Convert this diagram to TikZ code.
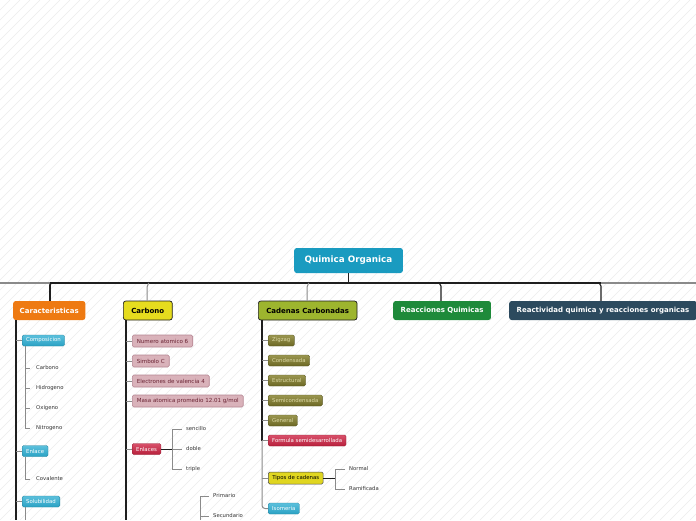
\documentclass[tikz,border=0pt]{standalone}
\usepackage{fontspec}
\setmainfont{DejaVu Sans}
\usetikzlibrary{calc}
\definecolor{rootc}{HTML}{1A9BC0}
\definecolor{orangec}{HTML}{EE7A12}
\definecolor{yellowc}{HTML}{E6DC1E}
\definecolor{olivec}{HTML}{9DB52E}
\definecolor{greenc}{HTML}{1E8A3A}
\definecolor{slatec}{HTML}{2C4A5E}
\definecolor{tealc}{HTML}{2AA2C4}
\definecolor{tealtop}{HTML}{5CC0DC}
\definecolor{pinkc}{HTML}{D9B2BA}
\definecolor{pinkb}{HTML}{B58592}
\definecolor{pinkt}{HTML}{6A2434}
\definecolor{crimc}{HTML}{B8203C}
\definecolor{crimtop}{HTML}{D8506A}
\definecolor{darkol}{HTML}{6C6824}
\definecolor{darkoltop}{HTML}{9A9650}
\definecolor{oltext}{HTML}{DCD8A4}
\definecolor{tipoc}{HTML}{E0D620}
\definecolor{linec}{HTML}{1E1E1E}
\definecolor{tickc}{HTML}{8A8A8A}
\definecolor{leaft}{HTML}{333333}
\definecolor{hatch}{HTML}{ECECEC}
\tikzset{
  rootbox/.style={draw=none, fill=rootc, text=white, rounded corners=2.5pt, anchor=west,
    font=\fontsize{8.8}{10}\selectfont\bfseries, inner xsep=10.5pt, inner ysep=0pt, minimum height=25pt},
  mainbox/.style={rounded corners=2.5pt, anchor=west, font=\fontsize{7}{8}\selectfont\bfseries,
    inner xsep=7.5pt, inner ysep=0pt, minimum height=19pt},
  subbox/.style={rounded corners=1.5pt, anchor=west, font=\fontsize{5.4}{6}\selectfont,
    inner xsep=4pt, inner ysep=0pt, minimum height=11pt},
  tealbox/.style={subbox, top color=tealtop, bottom color=tealc, draw=tealc!80!black, line width=0.3pt, text=white},
  pinkbox/.style={subbox, fill=pinkc, draw=pinkb, line width=0.6pt, text=pinkt, minimum height=12pt, inner xsep=4.5pt, font=\fontsize{5.55}{6}\selectfont},
  crimbox/.style={subbox, top color=crimtop, bottom color=crimc, draw=crimc!80!black, line width=0.3pt, text=white},
  olbox/.style={subbox, top color=darkoltop, bottom color=darkol, draw=darkol!80!black, line width=0.3pt, text=oltext},
  tipobox/.style={subbox, fill=tipoc, draw=linec!80, line width=0.5pt, text=black, minimum height=12pt, inner xsep=4pt},
  leaf/.style={anchor=west, font=\fontsize{5.3}{6}\selectfont, text=leaft, inner sep=0pt},
  spine/.style={draw=linec, line width=1.2pt},
  bus/.style={draw=linec, line width=1.6pt},
  graybus/.style={draw=tickc, line width=1.6pt},
  tick/.style={draw=tickc, line width=0.6pt},
  graytrunk/.style={draw=tickc, line width=1pt},
}
\begin{document}
\begin{tikzpicture}[x=1pt,y=-1pt]
\useasboundingbox (0,0) rectangle (696,520);
\fill[white] (0,0) rectangle (696,520);
\begin{scope}
\clip (0,0) rectangle (696,520);
\foreach \i in {-530,-520,...,700} \draw[hatch, line width=0.5pt] (\i,520) -- (\i+520,0);
\end{scope}

% root
\node[rootbox] (root) at (294,260.5) {Quimica Organica};

% main boxes
\node[mainbox, fill=orangec, text=white, draw=none, inner xsep=6.5pt] (car) at (13,310.5) {Caracteristicas};
\node[mainbox, fill=yellowc, text=black, draw=linec, line width=0.7pt, inner xsep=8pt] (carb) at (123,310.5) {Carbono};
\node[mainbox, fill=olivec, text=black, draw=linec, line width=0.7pt, inner xsep=8pt] (cad) at (258,310.5) {Cadenas Carbonadas};
\node[mainbox, fill=greenc, text=white, draw=none] (reac) at (393,310.5) {Reacciones Quimicas};
\node[mainbox, fill=slatec, text=white, draw=none, inner xsep=7.5pt] (reacti) at (509,310.5) {Reactividad quimica y reacciones organicas};

% bus
\coordinate (busL) at (0,283);
\coordinate (busR) at (696,283);
\coordinate (busA) at (50,283);
\coordinate (busB) at (601,283);
\draw[graybus] (busL) -- (busR);
\draw[bus] (busA) -- (busB);
\draw[bus] (root.south) ++(0,0) -- (root.south |- busA);
\draw[bus, rounded corners=2pt] (52,283) -- (50,283) -- (car.north -| 50,0);
\draw[graytrunk, rounded corners=2pt] (149,283) -- (147,285) -- (carb.north -| 147,0);
\draw[graytrunk, rounded corners=2pt] (309,283) -- (307,285) -- (cad.north -| 307,0);
\draw[bus, line width=1.1pt, rounded corners=2pt] (439,283) -- (441,284) -- (reac.north -| 441,0);
\draw[bus, line width=1.1pt, rounded corners=2pt] (599,283) -- (601,284) -- (reacti.north -| 601,0);

% ---------- Caracteristicas ----------
\node[tealbox] (comp) at (22,340.5) {Composicion};
\node[leaf] (c1) at (36,368) {Carbono};
\node[leaf] (c2) at (36,388) {Hidrogeno};
\node[leaf] (c3) at (36,408) {Oxigeno};
\node[leaf] (c4) at (36,428) {Nitrogeno};
\node[tealbox] (enl) at (22,451) {Enlace};
\node[leaf] (cov) at (36,479) {Covalente};
\node[tealbox] (sol) at (22,501.5) {Solubilidad};
\coordinate (carbot) at (16,520);
\draw[spine] (car.south west) ++(3,0) -- (carbot);
\foreach \n in {comp,enl,sol} \draw[tick] (\n.west -| carbot) -- (\n.west);
\coordinate (compx) at (25,0);
\draw[tick, line width=0.9pt] (comp.south west -| compx) -- (c4.west -| compx) -- ++(5,0);
\foreach \n in {c1,c2,c3} \draw[tick] (\n.west -| compx) -- ++(5,0);
\draw[tick, line width=0.9pt] (enl.south west -| compx) -- (cov.west -| compx) -- ++(5,0);
\draw[tick, line width=0.9pt] (sol.south west -| compx) -- (25,520);

% ---------- Carbono ----------
\node[pinkbox] (num) at (132,341) {Numero atomico 6};
\node[pinkbox] (sim) at (132,361) {Simbolo C};
\node[pinkbox] (ele) at (132,381) {Electrones de valencia 4};
\node[pinkbox] (mas) at (132,401) {Masa atomica promedio 12.01 g/mol};
\node[crimbox] (enls) at (132,449) {Enlaces};
\node[leaf] (sen) at (186,429) {sencillo};
\node[leaf] (dob) at (186,449) {doble};
\node[leaf] (tri) at (186,469) {triple};
\node[leaf] (pri) at (213,496) {Primario};
\node[leaf] (sec) at (213,516) {Secundario};
\coordinate (carbbot) at (126,520);
\draw[spine] (carb.south west) ++(3,0) -- (carbbot);
\foreach \n in {num,sim,ele,mas,enls} \draw[tick] (\n.west -| carbbot) -- (\n.west);
\draw[spine, line width=0.9pt] (enls.east) -- (172,449);
\draw[tick, line width=0.9pt] (sen.west) ++(-4,0) -- (172,429) -- (172,469) -- ($(tri.west)+(-4,0)$);
\draw[tick] (dob.west -| 172,0) -- ++(10,0);
\draw[tick, line width=0.9pt] (pri.west) ++(-4,0) -- (200,496) -- (200,520);
\draw[tick] (sec.west -| 200,0) -- ++(9,0);

% ---------- Cadenas Carbonadas ----------
\node[olbox] (zig) at (268,340.5) {Zigzag};
\node[olbox] (con) at (268,360.5) {Condensada};
\node[olbox] (est) at (268,380.5) {Estructural};
\node[olbox] (semi) at (268,400.5) {Semicondensada};
\node[olbox] (gen) at (268,420.5) {General};
\node[crimbox] (form) at (268,440.5) {Formula semidesarrollada};
\node[tipobox] (tip) at (268,478) {Tipos de cadenas};
\node[leaf] (nor) at (349,469) {Normal};
\node[leaf] (ram) at (349,489) {Ramificada};
\node[tealbox] (iso) at (268,508.5) {Isomeria};
\coordinate (cadx) at (262,0);
\draw[spine] (cad.south west) ++(4,0) -- (form.west -| cadx);
\draw[graytrunk, rounded corners=3pt] (form.west -| cadx) -- (iso.west -| cadx) -- (iso.west);
\foreach \n in {zig,con,est,semi,gen,form,tip} \draw[tick] (\n.west -| cadx) -- (\n.west);
\draw[spine, line width=0.9pt] (tip.east) -- (335,478);
\draw[tick, line width=0.9pt] (nor.west) ++(-4,0) -- (335,469) -- (335,489) -- ($(ram.west)+(-4,0)$);
\end{tikzpicture}
\end{document}
